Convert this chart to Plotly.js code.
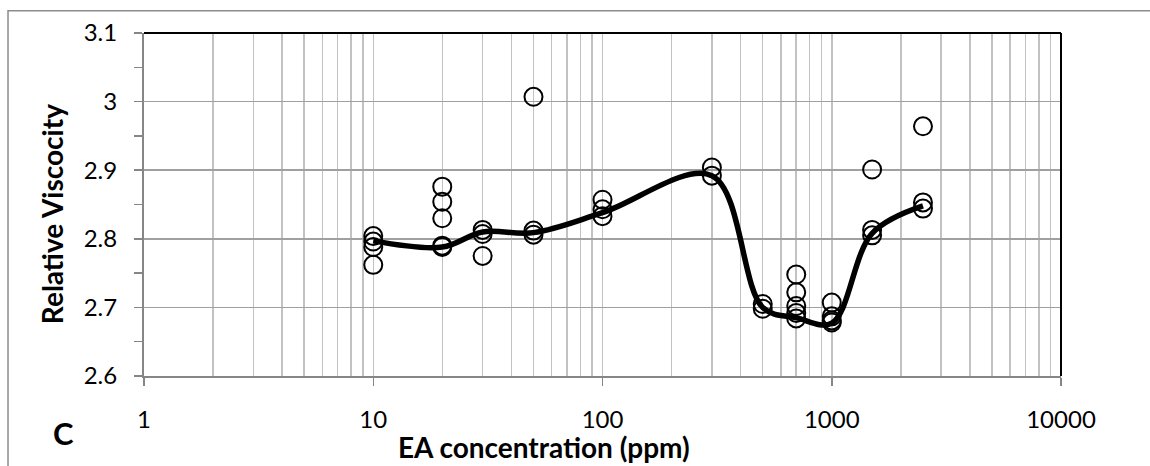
<!DOCTYPE html>
<html>
<head>
<meta charset="utf-8">
<script src="https://cdn.plot.ly/plotly-3.0.1.min.js"></script>
<style>html,body{margin:0;padding:0;background:#fff;}#chart{width:1150px;height:466px;}</style>
</head>
<body>
<div id="chart"></div>
<script>
// Measured points (EA concentration in ppm, relative viscosity)
const pointConc = [10,10,10,10, 20,20,20,20,20, 30,30,30, 50,50,50, 100,100,100, 300,300, 500,500, 700,700,700,700,700, 1000,1000,1000,1000, 1500,1500,1500, 2500,2500,2500];
const pointVisc = [2.804,2.796,2.788,2.762, 2.876,2.854,2.830,2.790,2.788, 2.813,2.807,2.775, 3.007,2.812,2.806, 2.857,2.843,2.833, 2.904,2.892, 2.705,2.698, 2.748,2.722,2.702,2.692,2.684, 2.707,2.687,2.681,2.678, 2.901,2.813,2.805, 2.964,2.853,2.844];
// Smoothed trend line nodes
const curveConc = [10, 20, 30, 50, 100, 300, 500, 700, 1000, 1500, 2500];
const curveVisc = [2.797, 2.788, 2.810, 2.809, 2.838, 2.892, 2.700, 2.685, 2.677, 2.808, 2.848];
// Axis labels
const xTickVals = [1, 10, 100, 1000, 10000];
const xTickText = ['1', '10', '100', '1000', '10000'];

const minorVals = [];
for (let d = 1; d <= 1000; d *= 10) { for (let k = 2; k <= 9; k++) minorVals.push(k * d); }

const data = [
  {x: curveConc, y: curveVisc, type: 'scatter', mode: 'lines',
   line: {shape: 'spline', smoothing: 1, color: '#000', width: 5.5}, hoverinfo: 'skip'},
  {x: pointConc, y: pointVisc, type: 'scatter', mode: 'markers',
   marker: {symbol: 'circle-open', size: 18, color: '#000', line: {color: '#000', width: 2}}}
];

const grey = '#868686';
const layout = {
  width: 1150, height: 466,
  margin: {l: 144, r: 89, t: 33, b: 90},
  paper_bgcolor: '#fff', plot_bgcolor: '#fff',
  showlegend: false,
  font: {family: 'Lato, sans-serif', size: 24, color: '#000'},
  xaxis: {
    type: 'log', range: [0, 4], tickmode: 'array', tickvals: xTickVals, ticktext: xTickText,
    ticks: 'outside', ticklen: 8, tickcolor: grey, tickwidth: 1.5,
    showline: true, linecolor: grey, linewidth: 2,
    showgrid: true, gridcolor: '#c2c2c2', gridwidth: 1.5, zeroline: false,
    ticklabelstandoff: 13,
    minor: {tickmode: 'array', tickvals: minorVals, showgrid: true, gridcolor: '#c2c2c2', gridwidth: 1.5, ticks: ''}
  },
  yaxis: {
    range: [2.6, 3.1], tick0: 2.6, dtick: 0.1,
    ticks: 'outside', ticklen: 8, tickcolor: grey, tickwidth: 1.5,
    showline: true, linecolor: grey, linewidth: 2,
    showgrid: true, gridcolor: '#a0a0a0', gridwidth: 1.5, zeroline: false,
    ticklabelstandoff: 12,
    minor: {dtick: 0.05, ticks: 'outside', ticklen: 8, tickcolor: grey, tickwidth: 1.5, showgrid: false}
  },
  shapes: [
    {type: 'line', xref: 'paper', yref: 'paper', x0: 0, x1: 1, y0: 1, y1: 1, line: {color: '#000', width: 2}},
    {type: 'line', xref: 'paper', yref: 'paper', x0: 1, x1: 1, y0: 0, y1: 1, line: {color: '#000', width: 2}},
    {type: 'path', xref: 'paper', yref: 'paper', path: 'M -0.1483 -0.3 L -0.1483 1.065 L 1.12 1.065', line: {color: '#8c8c8c', width: 1.5}}
  ],
  annotations: [
    {text: 'Relative Viscocity', xref: 'paper', yref: 'paper', x: -0.1003, y: 0.472, xanchor: 'center', yanchor: 'middle',
     textangle: -90, showarrow: false, font: {size: 28, weight: 700, color: '#000'}},
    {text: 'EA concentration (ppm)', xref: 'paper', yref: 'paper', x: 0.436, y: -0.207, xanchor: 'center', yanchor: 'middle',
     showarrow: false, font: {size: 28, weight: 700, color: '#000'}},
    {text: 'C', xref: 'paper', yref: 'paper', x: -0.0883, y: -0.166, xanchor: 'center', yanchor: 'middle',
     showarrow: false, font: {size: 31, weight: 700, color: '#000'}}
  ]
};

Plotly.newPlot('chart', data, layout, {displayModeBar: false, staticPlot: true});
</script>
</body>
</html>
